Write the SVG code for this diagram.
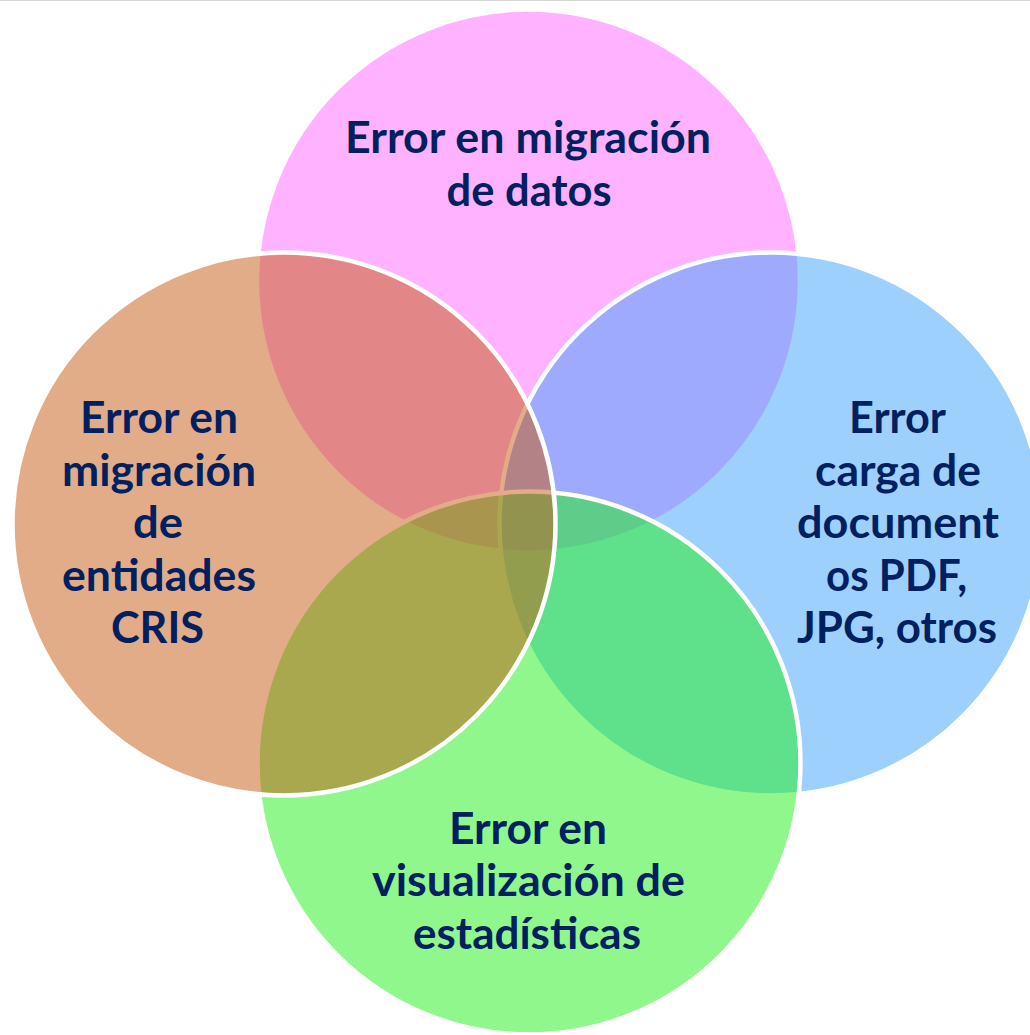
<svg xmlns="http://www.w3.org/2000/svg" width="1030" height="1035" viewBox="0 0 1030 1035">
<style>
.c{fill-opacity:0.5;stroke:#fff;stroke-width:4.5}
.t{font-family:Lato,"Open Sans","Liberation Sans",sans-serif;font-weight:700;font-size:43px;fill:#002060;text-anchor:middle}
</style>
<rect width="1030" height="1035" fill="#fff"/>
<line x1="0" y1="0.5" x2="1030" y2="0.5" stroke="#d6d6d6" stroke-width="1"/>
<g id="node-datos">
<circle class="c" cx="528.5" cy="281" r="271.5" fill="#FF66FF"/>
<text class="t" x="528" y="153" textLength="366" lengthAdjust="spacingAndGlyphs">Error en migración</text>
<text class="t" x="529" y="206" textLength="165" lengthAdjust="spacingAndGlyphs">de datos</text>
</g>
<g id="node-documentos">
<circle class="c" cx="771" cy="524" r="271.5" fill="#3EA1FB"/>
<text class="t" x="897.5" y="433" textLength="97" lengthAdjust="spacingAndGlyphs">Error</text>
<text class="t" x="898" y="486" textLength="166" lengthAdjust="spacingAndGlyphs">carga de</text>
<text class="t" x="898" y="538" textLength="202" lengthAdjust="spacingAndGlyphs">document</text>
<text class="t" x="896.5" y="591" textLength="141" lengthAdjust="spacingAndGlyphs">os PDF,</text>
<text class="t" x="897" y="643" textLength="200" lengthAdjust="spacingAndGlyphs">JPG, otros</text>
</g>
<g id="node-estadisticas">
<circle class="c" cx="529" cy="763" r="271.5" fill="#1FEF17"/>
<text class="t" x="528" y="844" textLength="158" lengthAdjust="spacingAndGlyphs">Error en</text>
<text class="t" x="528.5" y="896" textLength="313" lengthAdjust="spacingAndGlyphs">visualización de</text>
<text class="t" x="527" y="949" textLength="228" lengthAdjust="spacingAndGlyphs">estadísticas</text>
</g>
<g id="node-cris">
<circle class="c" cx="284" cy="524" r="271.5" fill="#C55A11"/>
<text class="t" x="159" y="433" textLength="158" lengthAdjust="spacingAndGlyphs">Error en</text>
<text class="t" x="159" y="486" textLength="194" lengthAdjust="spacingAndGlyphs">migración</text>
<text class="t" x="158" y="538" textLength="50" lengthAdjust="spacingAndGlyphs">de</text>
<text class="t" x="159" y="591" textLength="194" lengthAdjust="spacingAndGlyphs">entidades</text>
<text class="t" x="157.5" y="643" textLength="93" lengthAdjust="spacingAndGlyphs">CRIS</text>
</g>
</svg>
